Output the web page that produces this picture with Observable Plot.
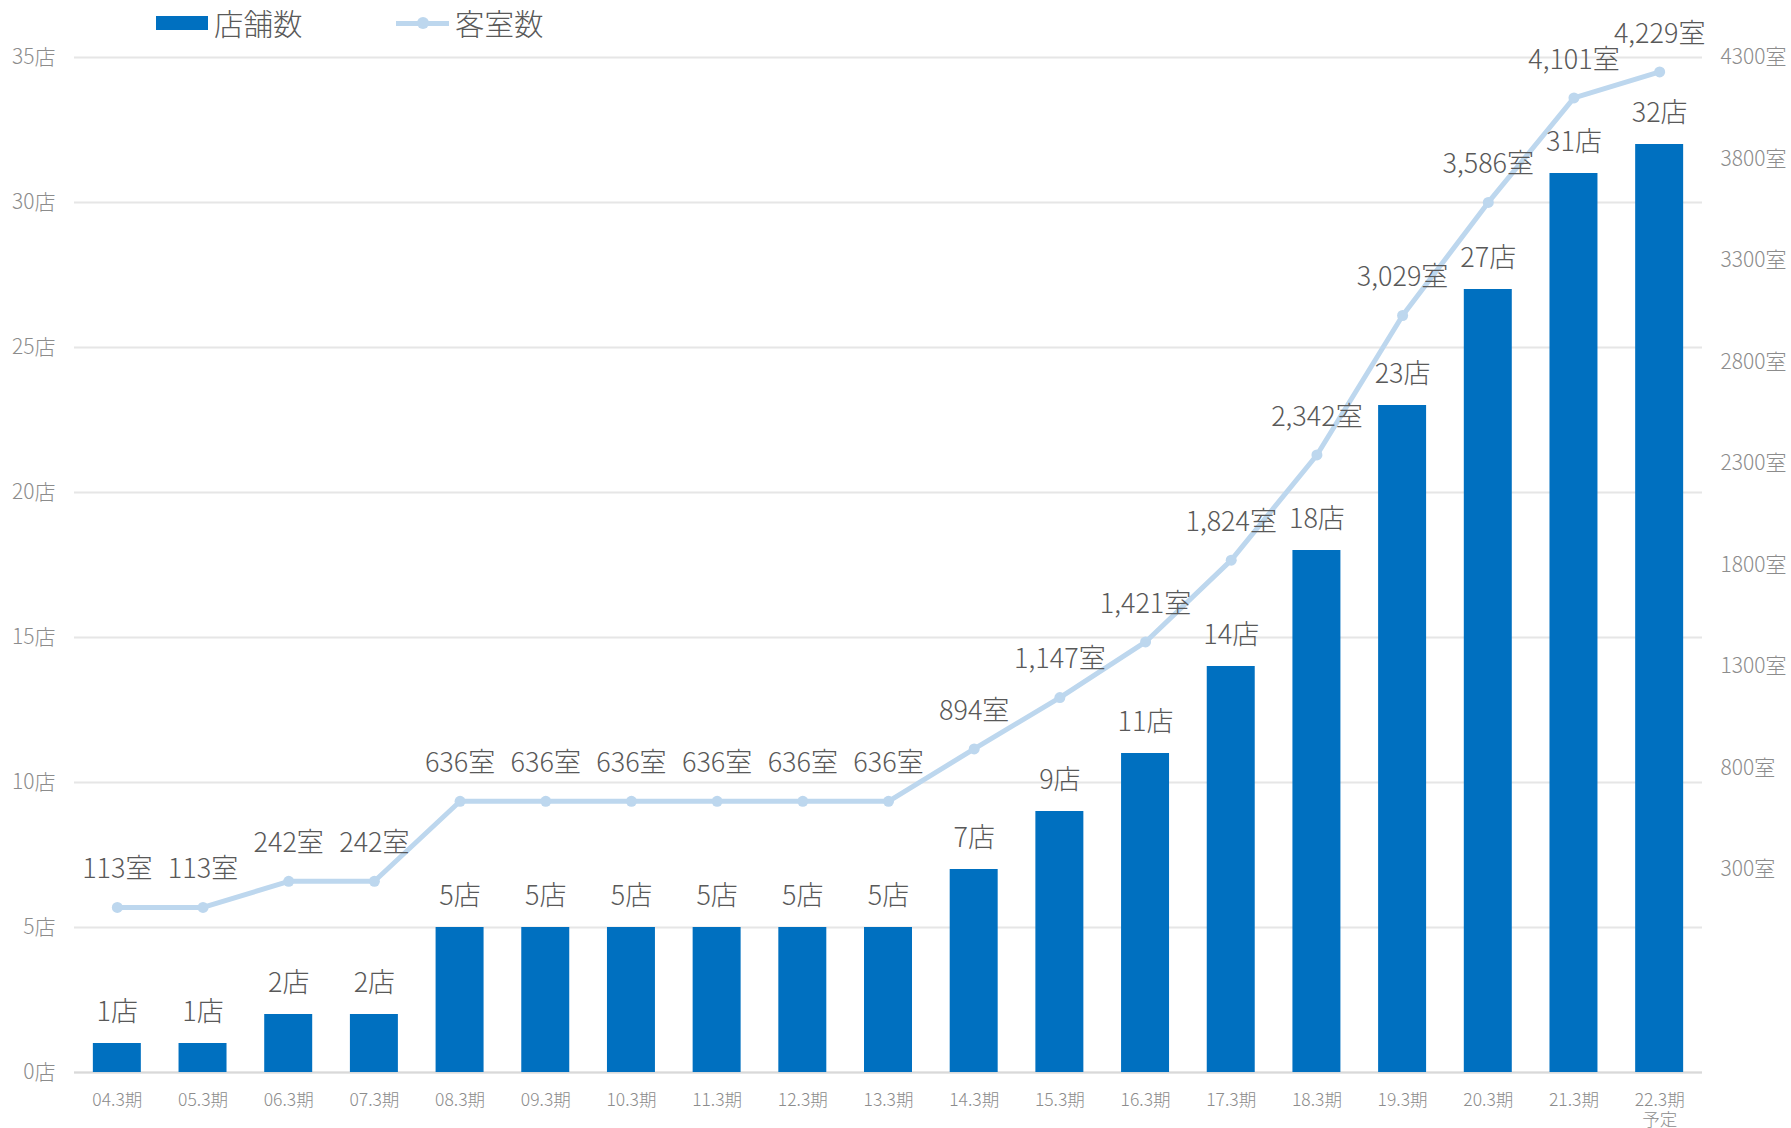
<!DOCTYPE html>
<html>
<head>
<meta charset="utf-8">
<script src="https://cdn.jsdelivr.net/npm/d3@7"></script>
<script src="https://cdn.jsdelivr.net/npm/@observablehq/plot@0.6"></script>
<style>
  html, body { margin: 0; padding: 0; background: #fff; }
  body { width: 1791px; height: 1128px; overflow: hidden; font-family: "Noto Sans CJK JP", sans-serif; }
  #legend { position: relative; height: 40px; }
  .lg { position: absolute; top: 5px; font-size: 29.5px; color: #595959; line-height: 34px; font-weight: 300; }
  svg { overflow: visible; }
</style>
</head>
<body>
<div id="legend">
  <div style="position:absolute;left:156px;top:16px;width:52px;height:14px;background:#0070C0"></div>
  <div class="lg" style="left:214px">店舗数</div>
  <div style="position:absolute;left:396px;top:21px;width:53px;height:5px;background:#BDD7EE"></div>
  <div style="position:absolute;left:417px;top:17px;width:12px;height:12px;border-radius:6px;background:#BDD7EE"></div>
  <div class="lg" style="left:455px">客室数</div>
</div>
<div id="chart"></div>
<script>
const periods = ["04.3期","05.3期","06.3期","07.3期","08.3期","09.3期","10.3期","11.3期","12.3期","13.3期","14.3期","15.3期","16.3期","17.3期","18.3期","19.3期","20.3期","21.3期","22.3期\n予定"];
const stores = [1,1,2,2,5,5,5,5,5,5,7,9,11,14,18,23,27,31,32];
const rooms = [113,113,242,242,636,636,636,636,636,636,894,1147,1421,1824,2342,3029,3586,4101,4229];
const storeTicks = [0,5,10,15,20,25,30,35];
const roomTicks = [300,800,1300,1800,2300,2800,3300,3800,4300];

// secondary (room) axis domain [-700, 4300] mapped onto the store axis [0, 35]
const roomMin = -700, roomMax = 4300, storeMax = 35;
const toY = r => (r - roomMin) / (roomMax - roomMin) * storeMax;
const fromY = y => y / storeMax * (roomMax - roomMin) + roomMin;

const data = periods.map((p, i) => ({period: p, stores: stores[i], rooms: rooms[i]}));

const font = "Noto Sans CJK JP";
const chart = Plot.plot({
  width: 1791,
  height: 1088,
  marginTop: 17,
  marginBottom: 56,
  marginLeft: 74,
  marginRight: 89,
  style: {fontFamily: font, background: "#fff", overflow: "visible"},
  x: {domain: periods, paddingInner: 0.44, paddingOuter: 0.22, round: false},
  y: {domain: [0, storeMax]},
  marks: [
    Plot.gridY(storeTicks, {stroke: "#e6e6e6", strokeOpacity: 1, strokeWidth: 2}),
    Plot.ruleY([0], {stroke: "#d9d9d9", strokeWidth: 2}),
    Plot.axisY(storeTicks, {anchor: "left", tickSize: 0, tickPadding: 19, tickFormat: d => d + "店", fontSize: 21, fill: "#8c8c8c", label: null, fontWeight: 300}),
    Plot.axisY(roomTicks.map(toY), {anchor: "right", tickSize: 0, tickPadding: 18, tickFormat: v => Math.round(fromY(v)) + "室", fontSize: 21, fill: "#8c8c8c", label: null, textAnchor: "start", fontWeight: 300}),
    Plot.axisX({tickSize: 0, tickPadding: 19, fontSize: 17.5, fill: "#8c8c8c", label: null, lineHeight: 1.15, fontWeight: 300}),
    Plot.barY(data, {x: "period", y: "stores", fill: "#0070C0"}),
    Plot.line(data, {x: "period", y: d => toY(d.rooms), stroke: "#BDD7EE", strokeWidth: 5, curve: "linear"}),
    Plot.dot(data, {x: "period", y: d => toY(d.rooms), r: 5.5, fill: "#BDD7EE"}),
    Plot.text(data, {x: "period", y: "stores", text: d => d.stores + "店", dy: -31, fontSize: 27, fill: "#595959", fontWeight: 300}),
    Plot.text(data, {x: "period", y: d => toY(d.rooms), text: d => d3.format(",")(d.rooms) + "室", dy: -38, fontSize: 27, fill: "#595959", fontWeight: 300})
  ]
});
document.getElementById("chart").appendChild(chart);
</script>
</body>
</html>
